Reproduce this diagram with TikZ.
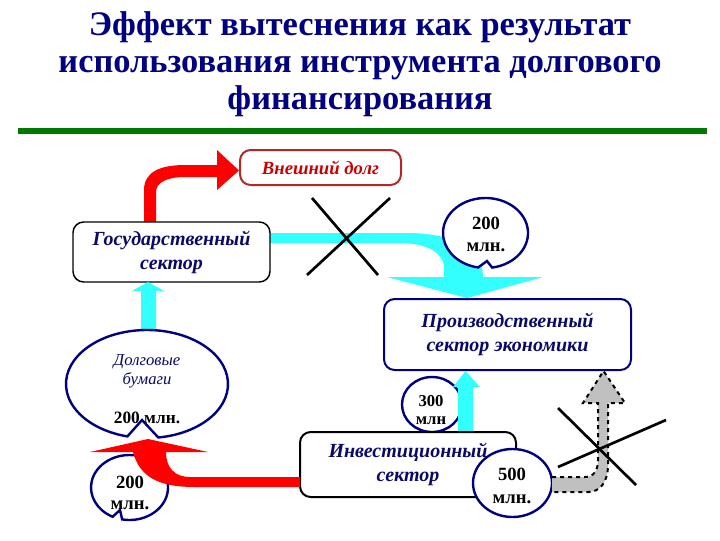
\documentclass[tikz,border=0pt]{standalone}
\usepackage{fontspec}
\setmainfont{Liberation Serif}

\definecolor{navyline}{RGB}{0,0,128}
\definecolor{navytext}{RGB}{10,10,100}
\definecolor{redarrow}{RGB}{255,0,0}
\definecolor{cyanarrow}{RGB}{51,255,255}
\definecolor{greybar}{RGB}{0,120,0}
\definecolor{debtred}{RGB}{176,40,40}
\definecolor{debttext}{RGB}{200,0,0}
\definecolor{greyarrow}{RGB}{192,192,192}

\tikzset{every picture/.style={line width=0.5pt}}
\tikzset{
  titletext/.style={font=\fontsize{25.8}{28}\selectfont\bfseries, text=navyline, anchor=base},
  sectorbox/.style={draw, rounded corners=8pt, fill=white, align=center, inner sep=0pt,
    font=\fontsize{15}{18}\selectfont\bfseries\itshape, text=navytext},
  bubble/.style={draw=navyline, line width=1.8, fill=white},
  bubbletext/.style={align=center, font=\fontsize{14}{16.5}\selectfont\bfseries},
  cross/.style={line width=2, black}
}

\begin{document}
\begin{tikzpicture}[x=0.75pt,y=0.75pt,yscale=-1]
\useasboundingbox (0,0) rectangle (720,540);

%Title
\node[titletext] (title1) at (360,35) {Эффект вытеснения как результат};
\node[titletext] (title2) at (360,72) {использования инструмента долгового};
\node[titletext] (title3) at (360,109) {финансирования};
\draw[greybar, line width=4] (18,131) -- (707,131);

%Shape: Red arrow up to external debt
\fill[redarrow] (144,222) -- (144,190) .. controls (144,172) and (160,165) .. (185,165) -- (217,165) -- (217,150) -- (239,170.5) -- (217,190) -- (217,177) -- (185,177) .. controls (168,177) and (156,182) .. (156,192) -- (156,222) -- cycle;

%Shape: Cyan curved arrow down to production
\fill[cyanarrow] (270,233) -- (407,233) .. controls (452,233) and (483,248) .. (483,277) -- (543,277) -- (467,298) -- (387,277) -- (444,277) -- (444,268) .. controls (444,252) and (425,243) .. (400,243) -- (270,243) -- cycle;

%Cross over the cyan arrow
\draw[cross] (312,198) -- (378,275);
\draw[cross] (390,198) -- (307,275);

%Bubble 200 (top)
\draw[bubble] (485.5,233) ++(81:42.5 and 35) arc[start angle=81, end angle=-260, x radius=42.5, y radius=35] -- (487,261) -- cycle;
\node[bubbletext] (bubtop) at (486,234) {200\\млн.};

%Boxes
\node[sectorbox, draw=debtred, line width=1.5, minimum width=120.75pt, minimum height=26.25pt,
  font=\fontsize{14}{16}\selectfont\bfseries\itshape, text=debttext] (extdebt) at (320.5,167.5) {Внешний долг};
\node[sectorbox, draw=black, line width=1.1, minimum width=147.75pt, minimum height=45pt] (gov) at (171.5,252) {Государственный\\сектор};
\node[sectorbox, draw=navyline, line width=1.5, minimum width=185.25pt, minimum height=53.25pt] (prod) at (507.5,334.5) {Производственный\\сектор экономики};

%Shape: Cyan arrow up to the state sector
\fill[cyanarrow] (141,332) -- (141,291) -- (132,291) -- (148,282) -- (164,291) -- (156,291) -- (156,332) -- cycle;

%Bubble: debt securities
\draw[bubble] (147,384) ++(82:81 and 54) arc[start angle=82, end angle=-256, x radius=81, y radius=54] -- (142,420) -- cycle;
\node[align=center, font=\fontsize{12.5}{14.25}\selectfont\itshape, text=navytext] (bonds) at (147,371) {Долговые\\бумаги};
\node[font=\fontsize{13}{15}\selectfont\bfseries] (bondsum) at (147,418) {200 млн.};

%Bubble 300
\draw[bubble] (432,404.5) ellipse[x radius=30, y radius=27.5];
\node[bubbletext, font=\fontsize{12.5}{13}\selectfont\bfseries] (bub300) at (431,410) {300\\млн};

%Shape: Cyan arrow up to production
\fill[cyanarrow] (458,433) -- (458,387) -- (453,387) -- (465.5,371) -- (480,387) -- (473,387) -- (473,433) -- cycle;

\node[sectorbox, draw=black, line width=1.5, minimum width=162pt, minimum height=48.75pt] (invest) at (408,464.5) {Инвестиционный\\сектор};

%Bubble 200 (bottom)
\draw[bubble] (129.5,487.5) ++(101:38.5 and 32.5) arc[start angle=101, end angle=-244, x radius=38.5, y radius=32.5] -- (120,510) -- cycle;
\node[bubbletext, font=\fontsize{14}{15.75}\selectfont\bfseries] (bubbot) at (130,493) {200\\млн.};

%Shape: Red arrow from investment to securities
\fill[redarrow] (300,477) -- (190,477) .. controls (175,477) and (166,468) .. (166,452) -- (208,452) -- (148,439) -- (90,452) -- (133,452) .. controls (140,478) and (160,487) .. (195,487) -- (300,487) -- cycle;

%Bubble 500
\draw[bubble] (512.5,483) ellipse[x radius=39.5, y radius=34];
\node[bubbletext, font=\fontsize{14}{17}\selectfont\bfseries] (bub500) at (512,486) {500\\млн.};

%Shape: Grey dashed arrow up to production
\draw[fill=greyarrow, dashed, line width=1.5] (552,477) -- (585,477) .. controls (594,477) and (598,470) .. (598,460) -- (598,403) -- (583,403) -- (603.5,371) -- (625,403) -- (608,403) -- (608,465) .. controls (608,482) and (600,492) .. (588,492) -- (552,492);

%Cross over the grey arrow
\draw[cross] (558,408) -- (636,485);
\draw[cross] (558,467) -- (666,420);

\end{tikzpicture}
\end{document}
